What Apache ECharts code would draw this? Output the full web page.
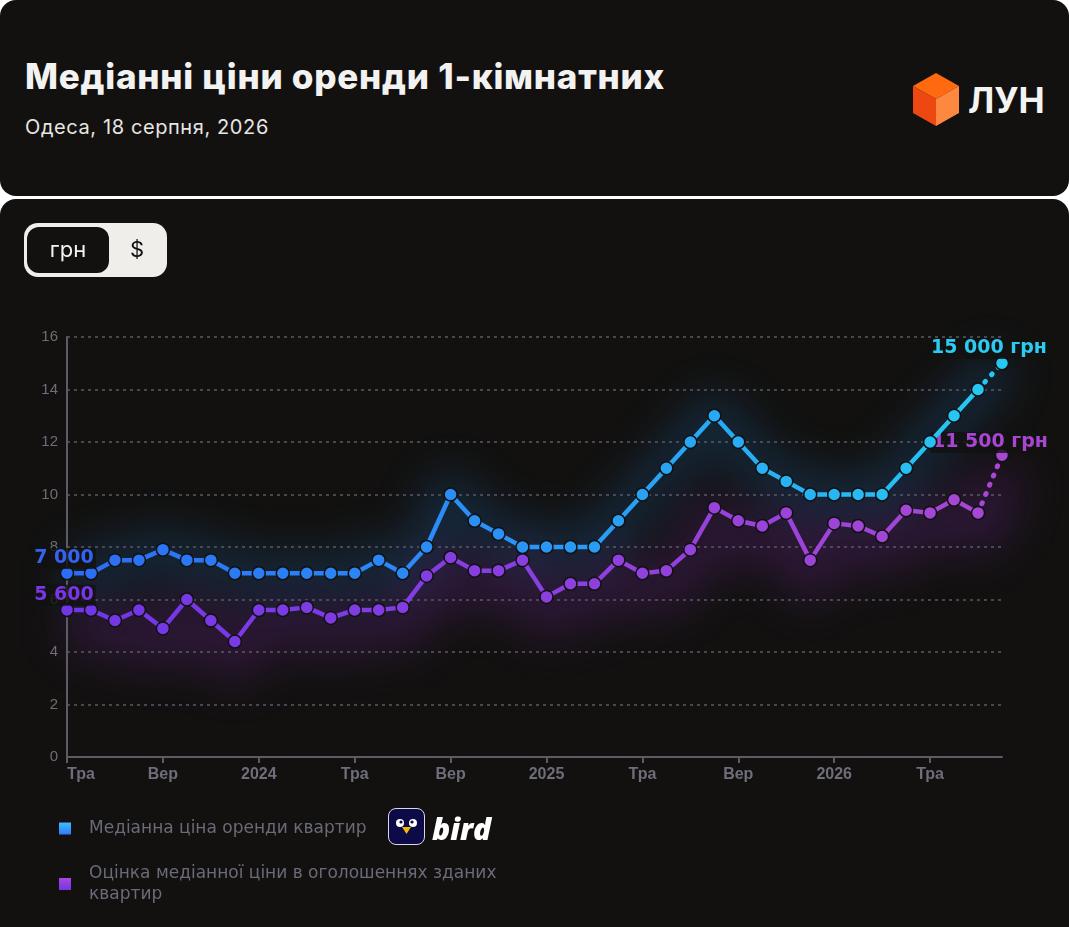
<!DOCTYPE html>
<html>
<head>
<meta charset="utf-8">
<script src="https://cdn.jsdelivr.net/npm/echarts@6/dist/echarts.min.js"></script>
<style>
    html, body { margin: 0; padding: 0; background: #ffffff; width: 1069px; height: 927px; overflow: hidden; }
    .card { position: absolute; left: 0; width: 1069px; background: #121110; border-radius: 16px; }
    #head { top: 0; height: 196px; }
    #body { top: 199px; height: 760px; overflow: hidden; }
    .title { position: absolute; left: 25px; top: 55px; color: #f2f2f0; font: 800 35px Inter, sans-serif; letter-spacing: 0.75px; }
    .sub { position: absolute; left: 25px; top: 115px; color: #e6e6e3; font: 400 20px Inter, sans-serif; letter-spacing: 0.6px; }
    .lun { position: absolute; left: 912px; top: 73px; }
    .lun-txt { position: absolute; left: 968px; top: 79px; color: #f4f4f2; font: 700 35px Inter, sans-serif; }
    .toggle { position: absolute; left: 24px; top: 223px; width: 143px; height: 54px; background: #efeeea; border-radius: 14px; }
    .toggle .on { position: absolute; left: 3px; top: 4px; width: 82px; height: 46px; background: #121110; border-radius: 12px; color: #f2f2f0; font: 400 22px Inter, sans-serif; text-align: center; line-height: 44px; }
    .toggle .off { position: absolute; left: 100px; top: 4px; width: 26px; color: #121110; font: 400 22px Inter, sans-serif; text-align: center; line-height: 44px; }
    #glow { position: absolute; left: 0; top: 1px; width: 1069px; height: 727px; filter: blur(22px); }
    #chart { position: absolute; left: 0; top: 200px; width: 1069px; height: 727px; }
    .bird { position: absolute; left: 388px; top: 808px; width: 35px; height: 35px; background: #0c0b48; border: 1.5px solid #d8d8e8; border-radius: 8px; }
    .bird-txt { position: absolute; left: 432px; top: 808px; color: #ffffff; font: italic 800 30px "Open Sans", sans-serif; }
</style>
</head>
<body>
<div class="card" id="head"></div>
<div class="card" id="body"><div id="glow"></div></div>
<div class="title">Медіанні ціни оренди 1-кімнатних</div>
<div class="sub">Одеса, 18 серпня, 2026</div>
<svg class="lun" width="48" height="54" viewBox="0 0 48 54">
    <polygon points="24,0 47,13 24,26 1,13" fill="#ff6a10"/>
    <polygon points="1,13 24,26 24,53 1,40" fill="#ee4812"/>
    <polygon points="24,26 47,13 47,40 24,53" fill="#ff8840"/>
</svg>
<div class="lun-txt">ЛУН</div>
<div class="toggle"><div class="on">грн</div><div class="off">$</div></div>
<div id="chart"></div>
<div class="bird">
    <svg width="35" height="35" viewBox="0 0 35 35">
        <circle cx="11" cy="14" r="4" fill="#fff"/><circle cx="12" cy="13" r="1.6" fill="#0c0b48"/>
        <circle cx="24" cy="14" r="4" fill="#fff"/><circle cx="23" cy="13" r="1.6" fill="#0c0b48"/>
        <polygon points="13,18 22,18 17.5,25" fill="#f5b800"/>
    </svg>
</div>
<div class="bird-txt">bird</div>
<script>
// місяці: травень 2023 - серпень 2026
var months = ['2023-05', '2023-06', '2023-07', '2023-08', '2023-09', '2023-10', '2023-11', '2023-12',
    '2024-01', '2024-02', '2024-03', '2024-04', '2024-05', '2024-06', '2024-07', '2024-08',
    '2024-09', '2024-10', '2024-11', '2024-12', '2025-01', '2025-02', '2025-03', '2025-04',
    '2025-05', '2025-06', '2025-07', '2025-08', '2025-09', '2025-10', '2025-11', '2025-12',
    '2026-01', '2026-02', '2026-03', '2026-04', '2026-05', '2026-06', '2026-07', '2026-08'];
var monthNames = ['Січ', 'Лют', 'Бер', 'Кві', 'Тра', 'Чер', 'Лип', 'Сер', 'Вер', 'Жов', 'Лис', 'Гру'];

// тис. грн
var medianRent = [7, 7, 7.5, 7.5, 7.9, 7.5, 7.5, 7, 7, 7, 7, 7, 7, 7.5, 7, 8, 10, 9, 8.5, 8,
    8, 8, 8, 9, 10, 11, 12, 13, 12, 11, 10.5, 10, 10, 10, 10, 11, 12, 13, 14, 15];
var listingEstimate = [5.6, 5.6, 5.2, 5.6, 4.9, 6, 5.2, 4.4, 5.6, 5.6, 5.7, 5.3, 5.6, 5.6, 5.7, 6.9, 7.6, 7.1, 7.1, 7.5,
    6.1, 6.6, 6.6, 7.5, 7, 7.1, 7.9, 9.5, 9, 8.8, 9.3, 7.5, 8.9, 8.8, 8.4, 9.4, 9.3, 9.8, 9.3, 11.5];

var seriesNames = ['Медіанна ціна оренди квартир', 'Оцінка медіанної ціни в оголошеннях зданих квартир'];
var yMin = 0, yMax = 16, yStep = 2;

function fmt(v) {
    return String(Math.round(v * 1000)).replace(/\B(?=(\d{3})+(?!\d))/g, ' ');
}

var last = months.length - 1;

// основна лінія без останнього (прогнозного) місяця
function mainData(arr, lbl) {
    return arr.map(function(v, i) {
        if (i === last) return null;
        if (i === 0) return { value: v, label: lbl };
        return v;
    });
}
// пунктир до останнього місяця
function tailData(arr, lbl) {
    return arr.map(function(v, i) {
        if (i === last) return { value: v, label: lbl };
        if (i === last - 1) return { value: v, symbol: 'none' };
        return null;
    });
}

function labelCfg(color, offset, unit) {
    return {
        show: true,
        position: 'top',
        offset: offset,
        color: color,
        fontFamily: 'DejaVu Sans',
        fontWeight: 'bold',
        fontSize: 19,
        backgroundColor: 'rgba(18,17,16,0.8)',
        borderRadius: 3,
        padding: [1, 2],
        formatter: function(p) { return fmt(p.value) + unit; }
    };
}

var grid = { left: 67, top: 137, width: 935, height: 420 };

// ==========================
// світіння: товсті лінії у окремому розмитому полотні
// ==========================
var glowChart = echarts.init(document.getElementById('glow'));
glowChart.setOption({
    animation: false,
    grid: grid,
    xAxis: { type: 'category', data: months, boundaryGap: false, show: false },
    yAxis: { type: 'value', min: yMin, max: yMax, show: false },
    series: [
        {
            type: 'line', data: medianRent, symbol: 'none', smooth: 0.3,
            lineStyle: { width: 40, color: 'rgba(30,130,225,0.22)' }
        },
        {
            type: 'line', data: listingEstimate.map(function(v) { return v - 0.6; }), symbol: 'none', smooth: 0.3,
            lineStyle: { width: 50, color: 'rgba(140,45,190,0.22)' }
        }
    ]
});

var chart = echarts.init(document.getElementById('chart'));

var option = {
    backgroundColor: 'transparent',
    animation: false,
    grid: grid,
    legend: {
        orient: 'vertical',
        left: 57,
        top: 618,
        padding: 0,
        itemWidth: 14,
        itemHeight: 14,
        itemGap: 24,
        icon: 'rect',
        textStyle: { color: '#6b6a77', fontSize: 17, fontFamily: 'DejaVu Sans', padding: [0, 0, 0, 12], lineHeight: 21 },
        formatter: function(name) {
            return name === seriesNames[1] ? 'Оцінка медіанної ціни в оголошеннях зданих\nквартир' : name;
        },
        data: [
            { name: seriesNames[0], itemStyle: { color: new echarts.graphic.LinearGradient(0, 0, 0, 1, [{ offset: 0, color: '#3ec8ff' }, { offset: 1, color: '#2f6ff6' }]) } },
            { name: seriesNames[1], itemStyle: { color: new echarts.graphic.LinearGradient(0, 0, 0, 1, [{ offset: 0, color: '#b04ce0' }, { offset: 1, color: '#6c32e4' }]) } }
        ]
    },
    visualMap: [
        { show: false, type: 'continuous', seriesIndex: 0, dimension: 0, min: 0, max: last, inRange: { color: ['#2c6cf6', '#2a95f6', '#25caf3'] } },
        { show: false, type: 'continuous', seriesIndex: 1, dimension: 0, min: 0, max: last, inRange: { color: ['#7036e8', '#8a3fe0', '#a947d4'] } }
    ],
    xAxis: {
        type: 'category',
        data: months,
        boundaryGap: false,
        axisLine: { lineStyle: { color: '#5c5b66', width: 2 } },
        axisTick: { interval: 3, length: 6, lineStyle: { color: '#5c5b66', width: 2 } },
        axisLabel: {
            interval: 3,
            color: '#6e6d79',
            fontSize: 16,
            fontWeight: 'bold',
            fontFamily: 'Liberation Sans',
            margin: 10,
            alignMinLabel: 'left',
            formatter: function(v) {
                var m = parseInt(v.split('-')[1], 10);
                return m === 1 ? v.split('-')[0] : monthNames[m - 1];
            }
        }
    },
    yAxis: {
        type: 'value',
        min: yMin,
        max: yMax,
        interval: yStep,
        axisLine: { show: true, lineStyle: { color: '#5c5b66', width: 2 } },
        axisLabel: { color: '#6e6d79', fontSize: 15, fontFamily: 'Liberation Sans', margin: 9 },
        splitLine: { lineStyle: { color: '#5a5964', type: [3, 4], width: 1.5 } }
    },
    series: [
        {
            name: seriesNames[0],
            type: 'line',
            data: mainData(medianRent, labelCfg('#3463f4', [-3, 8], '')),
            symbol: 'circle',
            symbolSize: 13,
            z: 4,
            lineStyle: { width: 4.5 },
            itemStyle: { borderColor: '#121110', borderWidth: 1.5 }
        },
        {
            name: seriesNames[1],
            type: 'line',
            data: mainData(listingEstimate, labelCfg('#7a36e6', [-3, 8], '')),
            symbol: 'circle',
            symbolSize: 13,
            z: 3,
            lineStyle: { width: 4.5 },
            itemStyle: { borderColor: '#121110', borderWidth: 1.5 }
        },
        {
            name: seriesNames[0],
            type: 'line',
            data: tailData(medianRent, labelCfg('#2ccbf2', [-13, 8], ' грн')),
            symbol: 'circle',
            symbolSize: 13,
            z: 4,
            color: '#26c8f3',
            lineStyle: { width: 5, type: [1, 9], cap: 'round', color: '#26c8f3' },
            itemStyle: { color: '#26c8f3', borderColor: '#121110', borderWidth: 1.5 }
        },
        {
            name: seriesNames[1],
            type: 'line',
            data: tailData(listingEstimate, labelCfg('#a845d2', [-12, 10], ' грн')),
            symbol: 'circle',
            symbolSize: 13,
            z: 3,
            color: '#a947d4',
            lineStyle: { width: 5, type: [1, 9], cap: 'round', color: '#a947d4' },
            itemStyle: { color: '#a947d4', borderColor: '#121110', borderWidth: 1.5 }
        }
    ]
};

chart.setOption(option);
</script>
</body>
</html>
